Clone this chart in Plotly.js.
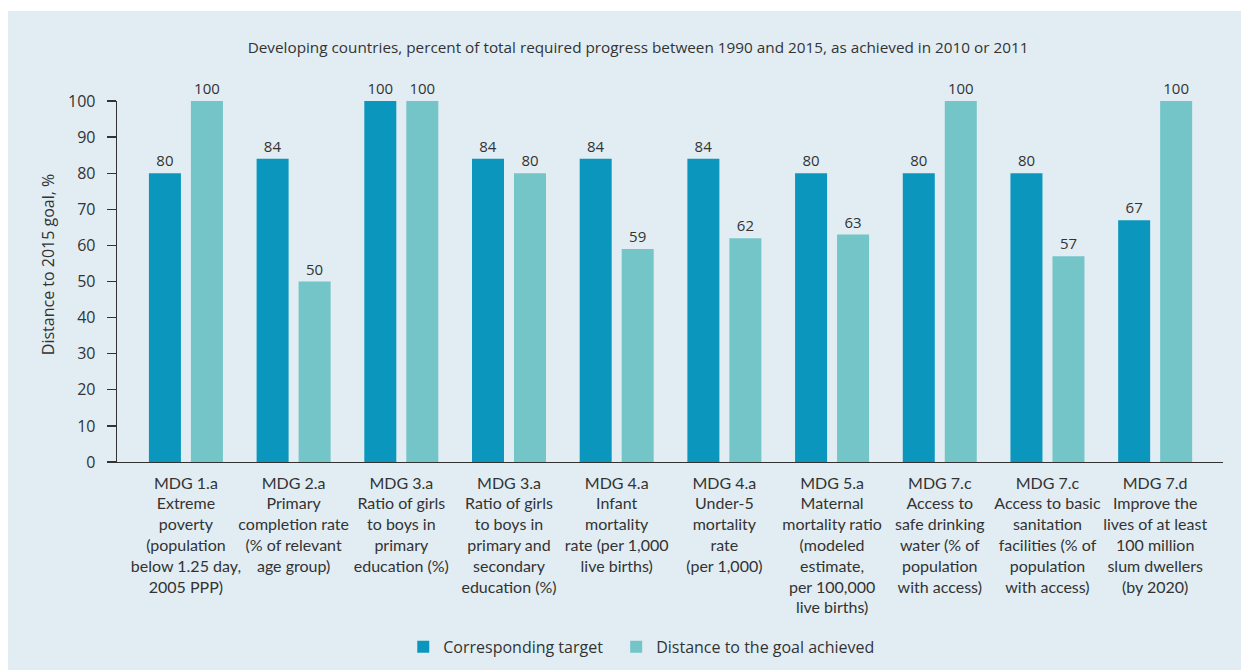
<!DOCTYPE html>
<html>
<head>
<meta charset="utf-8">
<script src="https://cdn.plot.ly/plotly-3.0.1.min.js"></script>
<style>
  html, body { margin: 0; padding: 0; background: #ffffff; width: 1241px; height: 670px; overflow: hidden; }
  #chart { position: absolute; left: 8px; top: 11px; width: 1233px; height: 659px; }
</style>
</head>
<body>
<div id="chart"></div>
<script>
// Category tick labels
const categories = [
  "MDG 1.a<br>Extreme<br>poverty<br>(population<br>below 1.25 day,<br>2005 PPP)",
  "MDG 2.a<br>Primary<br>completion rate<br>(% of relevant<br>age group)",
  "MDG 3.a<br>Ratio of girls<br>to boys in<br>primary<br>education (%)",
  "MDG 3.a<br>Ratio of girls<br>to boys in<br>primary and<br>secondary<br>education (%)",
  "MDG 4.a<br>Infant<br>mortality<br>rate (per 1,000<br>live births)",
  "MDG 4.a<br>Under-5<br>mortality<br>rate<br>(per 1,000)",
  "MDG 5.a<br>Maternal<br>mortality ratio<br>(modeled<br>estimate,<br>per 100,000<br>live births)",
  "MDG 7.c<br>Access to<br>safe drinking<br>water (% of<br>population<br>with access)",
  "MDG 7.c<br>Access to basic<br>sanitation<br>facilities (% of<br>population<br>with access)",
  "MDG 7.d<br>Improve the<br>lives of at least<br>100 million<br>slum dwellers<br>(by 2020)"
];
// Series values
const correspondingTarget = [80, 84, 100, 84, 84, 84, 80, 80, 80, 67];
const distanceAchieved   = [100, 50, 100, 80, 59, 62, 63, 100, 57, 100];
const seriesNames = ["Corresponding target", "Distance to the goal achieved"];
const yTicks = [0, 10, 20, 30, 40, 50, 60, 70, 80, 90, 100];
const yTitle = "Distance to 2015 goal, %";
const chartTitle = "Developing countries, percent of total required progress between 1990 and 2015, as achieved in 2010 or 2011";

const FONT = "'Open Sans', 'Noto Sans', sans-serif";
const CAT_FONT = "Lato, 'Open Sans', sans-serif";
const TXT = "#333333";
const DARK = "#0b97bd";
const LIGHT = "#74c5c8";
const BG = "#e1edf3";

const traces = [
  {
    type: "bar", name: seriesNames[0] + "\u00a0\u00a0", x: categories, y: correspondingTarget,
    marker: { color: DARK }, texttemplate: "%{y}", textposition: "outside",
    textfont: { family: FONT, size: 15, color: TXT }, cliponaxis: false, hoverinfo: "x+y"
  },
  {
    type: "bar", name: seriesNames[1], x: categories, y: distanceAchieved,
    marker: { color: LIGHT }, texttemplate: "%{y}", textposition: "outside",
    textfont: { family: FONT, size: 15, color: TXT }, cliponaxis: false, hoverinfo: "x+y"
  }
];

const layout = {
  width: 1233, height: 659,
  paper_bgcolor: BG, plot_bgcolor: BG,
  font: { family: FONT, color: TXT },
  margin: { l: 109, r: 18, t: 90, b: 208, pad: 0, autoexpand: false },
  barmode: "group", bargap: 0.22, bargroupgap: 0.238,
  title: {
    text: chartTitle,
    font: { family: FONT, size: 15.3, color: TXT },
    xref: "container", yref: "container", x: 0.511, y: 0.945, xanchor: "center", yanchor: "middle"
  },
  xaxis: {
    type: "category", range: [-0.64, 9.63],
    showline: true, linecolor: TXT, linewidth: 1.3,
    ticks: "", showgrid: false, zeroline: false,
    tickfont: { family: CAT_FONT, size: 16, color: TXT },
    tickangle: 0, automargin: false, ticklabelstandoff: 6
  },
  yaxis: {
    range: [0, 100], tickvals: yTicks, showline: true, linecolor: TXT, linewidth: 1.3,
    ticks: "outside", ticklen: 9, tickwidth: 1.3, tickcolor: TXT,
    showgrid: false, zeroline: false, ticklabelstandoff: 8,
    tickfont: { family: FONT, size: 16, color: TXT },
    automargin: false
  },
  annotations: [
    {
      text: yTitle, textangle: -90, xref: "paper", yref: "paper",
      x: -0.0624, y: 0.548, xanchor: "center", yanchor: "middle", showarrow: false,
      font: { family: FONT, size: 16, color: TXT }
    }
  ],
  showlegend: true,
  legend: {
    orientation: "h", xref: "container", yref: "container",
    x: 0.514, xanchor: "center", y: 0.035, yanchor: "middle",
    font: { family: FONT, size: 16, color: TXT }, bgcolor: "rgba(0,0,0,0)"
  }
};

Plotly.newPlot("chart", traces, layout, { displayModeBar: false, staticPlot: true });
</script>
</body>
</html>
